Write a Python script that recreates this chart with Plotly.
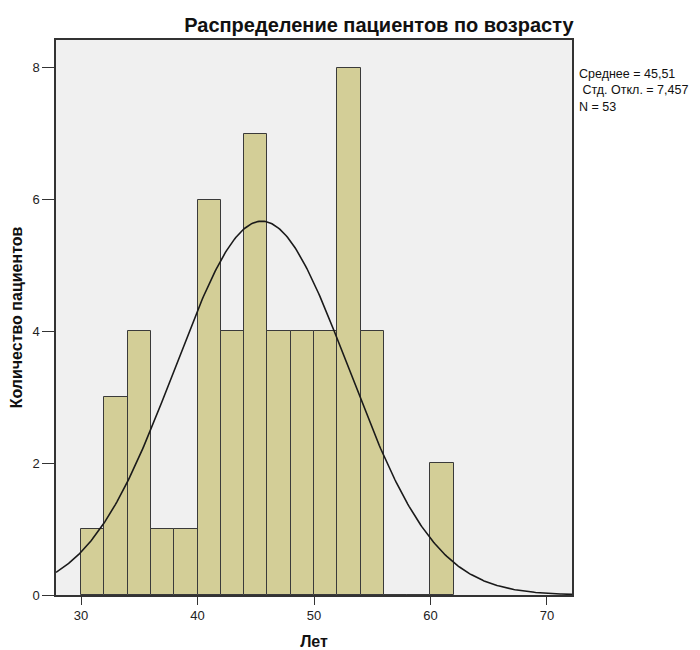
import numpy as np
import plotly.graph_objects as go

bin_left = [30, 32, 34, 36, 38, 40, 42, 44, 46, 48, 50, 52, 54, 56, 58, 60]
counts = [1, 3, 4, 1, 1, 6, 4, 7, 4, 4, 4, 8, 4, 0, 0, 2]
bin_width = 2
mean_age = 45.51
sd_age = 7.457
n_total = 53
x_ticks = [30, 40, 50, 60, 70]
y_ticks = [0, 2, 4, 6, 8]

centers = [b + bin_width / 2 for b in bin_left]

xs = np.linspace(27.85, 72.15, 400)
ys = n_total * bin_width / (sd_age * np.sqrt(2 * np.pi)) * np.exp(-0.5 * ((xs - mean_age) / sd_age) ** 2)

fig = go.Figure()
fig.add_trace(go.Bar(x=centers, y=counts, width=bin_width,
                     marker=dict(color="#d3ce97", line=dict(color="#3a3a3a", width=1)),
                     showlegend=False))
fig.add_trace(go.Scatter(x=xs, y=ys, mode="lines", line=dict(color="#1a1a1a", width=1.6),
                         showlegend=False))

font_family = "Liberation Sans, Arial, sans-serif"
fig.update_layout(
    width=692, height=642,
    margin=dict(l=48, r=128, t=32, b=55),
    paper_bgcolor="white", plot_bgcolor="#f0f0f0",
    font=dict(family=font_family, color="#222", size=12),
    title=dict(text="<b>Распределение пациентов по возрасту</b>", x=0.536, xanchor="center",
               y=0.9735, yanchor="middle", font=dict(size=20, color="#111")),
    bargap=0,
    xaxis=dict(range=[27.85, 72.15], tickvals=x_ticks, ticks="outside", ticklen=8,
               tickcolor="#333", showgrid=False, zeroline=False, showline=True,
               linecolor="#333", mirror=True, linewidth=1.5, automargin=False,
               tickfont=dict(size=13),
               title=dict(text="<b>Лет</b>", font=dict(size=16, color="#111"), standoff=16)),
    yaxis=dict(range=[0, 8.42], tickvals=y_ticks, ticks="outside", ticklen=12,
               tickcolor="#333", showgrid=False, zeroline=False, showline=True,
               linecolor="#333", mirror=True, linewidth=1.5, automargin=False,
               tickfont=dict(size=13),
               title=dict(text="<b>Количество пациентов</b>", font=dict(size=16, color="#111"), standoff=10)),
    annotations=[dict(x=1.0, y=0.955, xref="paper", yref="paper", xanchor="left", yanchor="top",
                      xshift=5, align="left", showarrow=False,
                      text=f"Среднее = {str(mean_age).replace('.', ',')}<br> Стд. Откл. = {str(sd_age).replace('.', ',')}<br>N = {n_total}",
                      font=dict(size=12.5, color="#111"))],
)

fig.write_html("out.html")
